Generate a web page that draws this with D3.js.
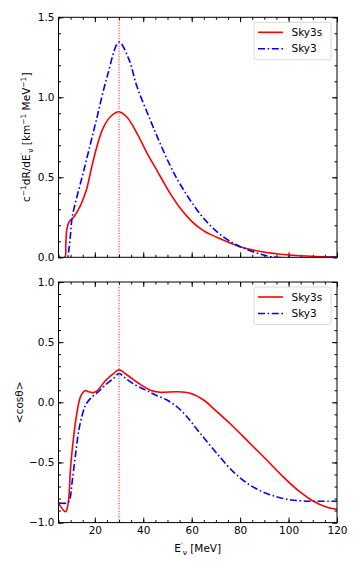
<!DOCTYPE html>
<html lang="en">
<head>
<meta charset="UTF-8">
<title>Sky3s vs Sky3</title>
<script src="https://d3js.org/d3.v7.min.js"></script>
<style>
    body { margin: 0; background: #fff; }
    text { font-family: "DejaVu Sans", sans-serif; fill: #000; }
    .tick text { font-size: 10.5px; }
    .tick line { stroke: #000; }
    .legend text { font-size: 10.5px; }
</style>
</head>
<body>
<div id="chart"></div>
<script>
    // data
    const rateSky3sE = [5, 7.6, 8.0, 8.4, 9.3, 11.4, 14.1, 16.5, 18.5, 21, 23.5, 26.5, 30, 33.3, 37.4, 41.6, 45, 48, 51.5, 55.3, 60, 65, 70.4, 80, 91, 104.7, 120];
    const rateSky3s  = [0, 0, 0.08, 0.17, 0.22, 0.254, 0.325, 0.42, 0.55, 0.70, 0.81, 0.88, 0.91, 0.875, 0.775, 0.65, 0.56, 0.48, 0.39, 0.306, 0.225, 0.165, 0.125, 0.066, 0.03, 0.01, 0.002];

    const rateSky3E = [5, 8.6, 9.3, 10, 10.7, 15.5, 20.3, 25.1, 30, 34, 37.4, 42.9, 47, 51.2, 55.3, 63.5, 70.4, 77.2, 81.3, 88.2, 95, 120];
    const rateSky3  = [0, 0, 0.05, 0.15, 0.254, 0.546, 0.8375, 1.13, 1.345, 1.24, 1.067, 0.858, 0.71, 0.57, 0.455, 0.27, 0.16, 0.0875, 0.058, 0.02, 0, 0];

    const cosSky3sE = [5.2, 7.9, 9.05, 10, 11.4, 12.8, 14.1, 15.9, 17.5, 19.2, 21, 24.4, 27.8, 30, 33.3, 38.1, 43.6, 47, 53.9, 59.4, 64.9, 70.4, 77.2, 84.1, 91, 97.8, 104.7, 110.1, 115.6, 120];
    const cosSky3s  = [-0.842, -0.91, -0.83, -0.537, -0.26, -0.064, 0.047, 0.097, 0.088, 0.08, 0.097, 0.18, 0.24, 0.27, 0.227, 0.158, 0.095, 0.083, 0.088, 0.075, 0.019, -0.078, -0.203, -0.342, -0.48, -0.62, -0.745, -0.82, -0.87, -0.89];

    const cosSky3E = [5.2, 8.6, 9.6, 10.7, 12.1, 13.4, 14.8, 16.2, 18.2, 21, 24.4, 27.8, 30, 32.6, 36.7, 40.9, 45, 49.8, 53.9, 58, 63.5, 70.4, 77.2, 84.1, 91, 97.8, 106, 120];
    const cosSky3  = [-0.837, -0.837, -0.81, -0.65, -0.425, -0.23, -0.106, -0.0225, 0.033, 0.08, 0.144, 0.2, 0.24, 0.2, 0.144, 0.1025, 0.061, 0.019, -0.037, -0.12, -0.258, -0.425, -0.578, -0.689, -0.758, -0.8, -0.82, -0.822];

    const energyTicks = [20, 40, 60, 80, 100, 120];
    const rateTicks = [0, 0.5, 1.0, 1.5];
    const cosTicks = [-1.0, -0.5, 0.0, 0.5, 1.0];
    const peakEnergy = 30;
    const seriesNames = ["Sky3s", "Sky3"];

    const W = 360, H = 570;
    const left = 58.5, right = 337;
    const panels = [
        { top: 17.3, bottom: 257.3, domain: [0, 1.5], ticks: rateTicks, showX: false,
          fmt: d3.format(".1f"),
          series: [[rateSky3sE, rateSky3s], [rateSky3E, rateSky3]] },
        { top: 282, bottom: 522.6, domain: [-1, 1], ticks: cosTicks, showX: true,
          fmt: d => d3.format(".1f")(d).replace("-", "\u2212"),
          series: [[cosSky3sE, cosSky3s], [cosSky3E, cosSky3]] }
    ];

    const colors = ["#ff0000", "#0000ff"];
    const dashes = [null, "7,2.6,1.6,2.6"];

    const svg = d3.select("#chart").append("svg")
        .attr("width", W).attr("height", H);

    const x = d3.scaleLinear().domain([5, 120]).range([left, right]);
    const minorE = d3.range(5, 121, 5);

    panels.forEach((p, pi) => {
        const y = d3.scaleLinear().domain(p.domain).range([p.bottom, p.top]);
        const minorY = d3.range(p.domain[0], p.domain[1] + 1e-9, 0.1);
        const g = svg.append("g");

        // clip for lines
        const clipId = "clip" + pi;
        g.append("clipPath").attr("id", clipId).append("rect")
            .attr("x", left).attr("y", p.top)
            .attr("width", right - left).attr("height", p.bottom - p.top);

        // minor ticks on all sides
        const mk = (axis, tr) => g.append("g").attr("transform", tr).call(axis)
            .call(s => s.select(".domain").remove());
        mk(d3.axisBottom(x).tickValues(minorE).tickSize(-2.5).tickFormat(""), `translate(0,${p.bottom})`);
        mk(d3.axisTop(x).tickValues(minorE).tickSize(-2.5).tickFormat(""), `translate(0,${p.top})`);
        mk(d3.axisLeft(y).tickValues(minorY).tickSize(-2.5).tickFormat(""), `translate(${left},0)`);
        mk(d3.axisRight(y).tickValues(minorY).tickSize(-2.5).tickFormat(""), `translate(${right},0)`);

        // major ticks
        mk(d3.axisBottom(x).tickValues(energyTicks).tickSize(-5).tickPadding(4)
            .tickFormat(p.showX ? d3.format("d") : ""), `translate(0,${p.bottom})`);
        mk(d3.axisTop(x).tickValues(energyTicks).tickSize(-5).tickFormat(""), `translate(0,${p.top})`);
        mk(d3.axisLeft(y).tickValues(p.ticks).tickSize(-5).tickPadding(4).tickFormat(p.fmt), `translate(${left},0)`);
        mk(d3.axisRight(y).tickValues(p.ticks).tickSize(-5).tickFormat(""), `translate(${right},0)`);

        // vertical dotted line at the peak energy
        g.append("line")
            .attr("x1", x(peakEnergy)).attr("x2", x(peakEnergy))
            .attr("y1", p.top).attr("y2", p.bottom)
            .attr("stroke", "#ff0000").attr("stroke-width", 1)
            .attr("stroke-dasharray", "1,1.6");

        // curves
        const line = d3.line().x(d => x(d[0])).y(d => y(d[1])).curve(d3.curveCatmullRom.alpha(0.5));
        p.series.forEach((s, si) => {
            const pts = s[0].map((e, i) => [e, s[1][i]]);
            g.append("path")
                .datum(pts)
                .attr("clip-path", `url(#${clipId})`)
                .attr("d", line)
                .attr("fill", "none")
                .attr("stroke", colors[si])
                .attr("stroke-width", 1.6)
                .attr("stroke-dasharray", dashes[si]);
        });

        // frame
        g.append("rect")
            .attr("x", left).attr("y", p.top)
            .attr("width", right - left).attr("height", p.bottom - p.top)
            .attr("fill", "none").attr("stroke", "#000").attr("stroke-width", 1);

        // legend
        const lg = g.append("g").attr("class", "legend")
            .attr("transform", `translate(254,${p.top + 5})`);
        lg.append("rect")
            .attr("width", 77).attr("height", 37.5).attr("rx", 2.5)
            .attr("fill", "#fff").attr("fill-opacity", 0.8)
            .attr("stroke", "#d0d0d0").attr("stroke-width", 0.8);
        seriesNames.forEach((name, i) => {
            const ly = 10 + i * 16.5;
            lg.append("line")
                .attr("x1", 4).attr("x2", 29).attr("y1", ly).attr("y2", ly)
                .attr("stroke", colors[i]).attr("stroke-width", 1.6)
                .attr("stroke-dasharray", dashes[i]);
            lg.append("text")
                .attr("x", 37.5).attr("y", ly).attr("dy", "0.35em")
                .text(name);
        });
    });

    // axis labels
    const yl1 = svg.append("text")
        .attr("transform", `translate(30,${(17.3 + 257.3) / 2}) rotate(-90)`)
        .attr("text-anchor", "middle").style("font-size", "10.5px");
    yl1.append("tspan").text("c");
    yl1.append("tspan").attr("dy", -4).style("font-size", "7.5px").text("\u22121");
    yl1.append("tspan").attr("dy", 4).text("dR/dE");
    yl1.append("tspan").attr("dy", -4.5).style("font-size", "7.5px").text("\u2032");
    yl1.append("tspan").attr("dy", 7).style("font-size", "7.5px").text("\u03bd");
    yl1.append("tspan").attr("dy", -2.5).text(" [km");
    yl1.append("tspan").attr("dy", -4).style("font-size", "7.5px").text("\u22121");
    yl1.append("tspan").attr("dy", 4).text(" MeV");
    yl1.append("tspan").attr("dy", -4).style("font-size", "7.5px").text("\u22121");
    yl1.append("tspan").attr("dy", 4).text("]");

    svg.append("text")
        .attr("transform", `translate(19,${(282 + 522.6) / 2}) rotate(-90)`)
        .attr("text-anchor", "middle").attr("dy", "0.35em")
        .style("font-size", "10.5px")
        .text("<cos\u03b8>");

    const xl = svg.append("text")
        .attr("x", (left + right) / 2).attr("y", 552)
        .attr("text-anchor", "middle").style("font-size", "10.5px");
    xl.append("tspan").text("E");
    xl.append("tspan").attr("dy", -4.5).style("font-size", "7.5px").text("\u2032");
    xl.append("tspan").attr("dy", 7).style("font-size", "7.5px").text("\u03bd");
    xl.append("tspan").attr("dy", -2.5).text(" [MeV]");
</script>
</body>
</html>
